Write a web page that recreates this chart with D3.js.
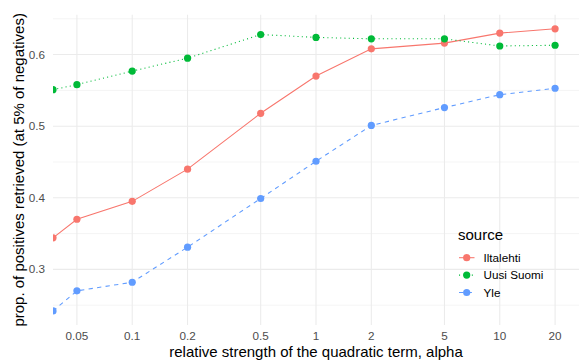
<!DOCTYPE html>
<html>
<head>
<meta charset="utf-8">
<script src="https://cdn.jsdelivr.net/npm/d3@7"></script>
<style>
    body { margin: 0; background: #fff; }
    text { font-family: "Liberation Sans", Arial, sans-serif; }
</style>
</head>
<body>
<script>

// alpha values (0 is drawn at the left panel edge, as log10(0) = -Inf)
var alphas = [0, 0.05, 0.1, 0.2, 0.5, 1, 2, 5, 10, 20];
var xTicks = [0.05, 0.1, 0.2, 0.5, 1, 2, 5, 10, 20];
var yTicks = [0.3, 0.4, 0.5, 0.6];
var yMinor = [0.25, 0.35, 0.45, 0.55, 0.65];

var sources = ["Iltalehti", "Uusi Suomi", "Yle"];
var iltalehti = [0.344, 0.370, 0.395, 0.440, 0.518, 0.570, 0.608, 0.616, 0.630, 0.636];
var uusiSuomi = [0.551, 0.558, 0.577, 0.595, 0.628, 0.624, 0.622, 0.622, 0.612, 0.613];
var yle = [0.242, 0.270, 0.282, 0.331, 0.399, 0.451, 0.501, 0.526, 0.544, 0.553];

var colours = ["#F8766D", "#00BA38", "#619CFF"];
var dashes = [null, "1.07,3.2", "4.3,4.3"];

window.onload = function() {

    var svgWidth = 579;
    var svgHeight = 360;
    var panel = {left: 53, right: 579, top: 14.7, bottom: 325};

    var series = [iltalehti, uusiSuomi, yle].map(function(values, i) {
        return {
            name: sources[i],
            points: values.map(function(v, j) { return [alphas[j], v]; })
        };
    });

    const svg = d3.select("body").append("svg")
        .attr("width", svgWidth)
        .attr("height", svgHeight);

    // log x scale, 5% expansion like ggplot
    var positive = alphas.filter(function(a) { return a > 0; });
    var lo = Math.log10(d3.min(positive));
    var hi = Math.log10(d3.max(positive));
    var xPad = 0.05 * (hi - lo);
    const xScale = d3.scaleLog()
        .domain([Math.pow(10, lo - xPad), Math.pow(10, hi + xPad)])
        .range([panel.left, panel.right]);
    var xPos = function(a) { return a > 0 ? xScale(a) : panel.left; };

    var allValues = iltalehti.concat(uusiSuomi, yle);
    var yMin = d3.min(allValues);
    var yMax = d3.max(allValues);
    var yPad = 0.05 * (yMax - yMin);
    const yScale = d3.scaleLinear()
        .domain([yMin - yPad, yMax + yPad])
        .range([panel.bottom, panel.top]);

    // Grid lines
    var grid = svg.append("g").attr("class", "grid");
    grid.selectAll(".minor")
        .data(yMinor)
        .enter()
        .append("line")
        .attr("x1", panel.left).attr("x2", panel.right)
        .attr("y1", function(d) { return yScale(d); })
        .attr("y2", function(d) { return yScale(d); })
        .attr("stroke", "#EBEBEB")
        .attr("stroke-width", 0.55);
    grid.selectAll(".ymajor")
        .data(yTicks)
        .enter()
        .append("line")
        .attr("x1", panel.left).attr("x2", panel.right)
        .attr("y1", function(d) { return yScale(d); })
        .attr("y2", function(d) { return yScale(d); })
        .attr("stroke", "#EBEBEB")
        .attr("stroke-width", 1.07);
    grid.selectAll(".xmajor")
        .data(xTicks)
        .enter()
        .append("line")
        .attr("y1", panel.top).attr("y2", panel.bottom)
        .attr("x1", function(d) { return xScale(d); })
        .attr("x2", function(d) { return xScale(d); })
        .attr("stroke", "#EBEBEB")
        .attr("stroke-width", 1.07);

    // Tick labels
    svg.append("g").selectAll("text")
        .data(yTicks)
        .enter()
        .append("text")
        .attr("x", panel.left - 8)
        .attr("y", function(d) { return yScale(d); })
        .attr("dy", "0.35em")
        .attr("text-anchor", "end")
        .attr("font-size", "11.7px")
        .attr("fill", "#4D4D4D")
        .text(function(d) { return d3.format(".1f")(d); });

    svg.append("g").selectAll("text")
        .data(xTicks)
        .enter()
        .append("text")
        .attr("x", function(d) { return xScale(d); })
        .attr("y", panel.bottom + 15)
        .attr("text-anchor", "middle")
        .attr("font-size", "11.7px")
        .attr("fill", "#4D4D4D")
        .text(function(d) { return String(d); });

    // Axis titles
    svg.append("text")
        .attr("x", (panel.left + panel.right) / 2)
        .attr("y", 357)
        .attr("text-anchor", "middle")
        .attr("font-size", "15px")
        .attr("fill", "#000")
        .text("relative strength of the quadratic term, alpha");

    svg.append("text")
        .attr("transform", `translate(18.5, ${(panel.top + panel.bottom) / 2}) rotate(-90)`)
        .attr("text-anchor", "middle")
        .attr("dy", "0.35em")
        .attr("font-size", "15px")
        .attr("fill", "#000")
        .text("prop. of positives retrieved (at 5% of negatives)");

    // Clip marks to the panel
    svg.append("clipPath")
        .attr("id", "panel-clip")
        .append("rect")
        .attr("x", panel.left)
        .attr("y", panel.top)
        .attr("width", panel.right - panel.left)
        .attr("height", panel.bottom - panel.top);

    var marks = svg.append("g").attr("clip-path", "url(#panel-clip)");

    var line = d3.line()
        .x(function(p) { return xPos(p[0]); })
        .y(function(p) { return yScale(p[1]); });

    series.forEach(function(s, i) {
        marks.append("path")
            .datum(s.points)
            .attr("d", line)
            .attr("fill", "none")
            .attr("stroke", colours[i])
            .attr("stroke-width", 1.07)
            .attr("stroke-dasharray", dashes[i]);
    });

    series.forEach(function(s, i) {
        marks.selectAll(".pt" + i)
            .data(s.points)
            .enter()
            .append("circle")
            .attr("cx", function(p) { return xPos(p[0]); })
            .attr("cy", function(p) { return yScale(p[1]); })
            .attr("r", 3.6)
            .attr("fill", colours[i]);
    });

    // Legend
    var legend = svg.append("g").attr("transform", "translate(458, 0)");
    legend.append("text")
        .attr("x", 0)
        .attr("y", 235)
        .attr("dy", "0.35em")
        .attr("font-size", "15px")
        .attr("fill", "#000")
        .text("source");

    var keys = legend.selectAll(".key")
        .data(sources)
        .enter()
        .append("g")
        .attr("transform", function(d, i) { return `translate(0, ${257.7 + i * 17.4})`; });
    keys.append("line")
        .attr("x1", 1).attr("x2", 16.5)
        .attr("y1", 0).attr("y2", 0)
        .attr("stroke", function(d, i) { return colours[i]; })
        .attr("stroke-width", 1.07)
        .attr("stroke-dasharray", function(d, i) { return dashes[i]; });
    keys.append("circle")
        .attr("cx", 8.7)
        .attr("cy", 0)
        .attr("r", 3.6)
        .attr("fill", function(d, i) { return colours[i]; });
    keys.append("text")
        .attr("x", 25.5)
        .attr("y", 0)
        .attr("dy", "0.35em")
        .attr("font-size", "11.7px")
        .attr("fill", "#000")
        .text(function(d) { return d; });
};
</script>
</body>
</html>
